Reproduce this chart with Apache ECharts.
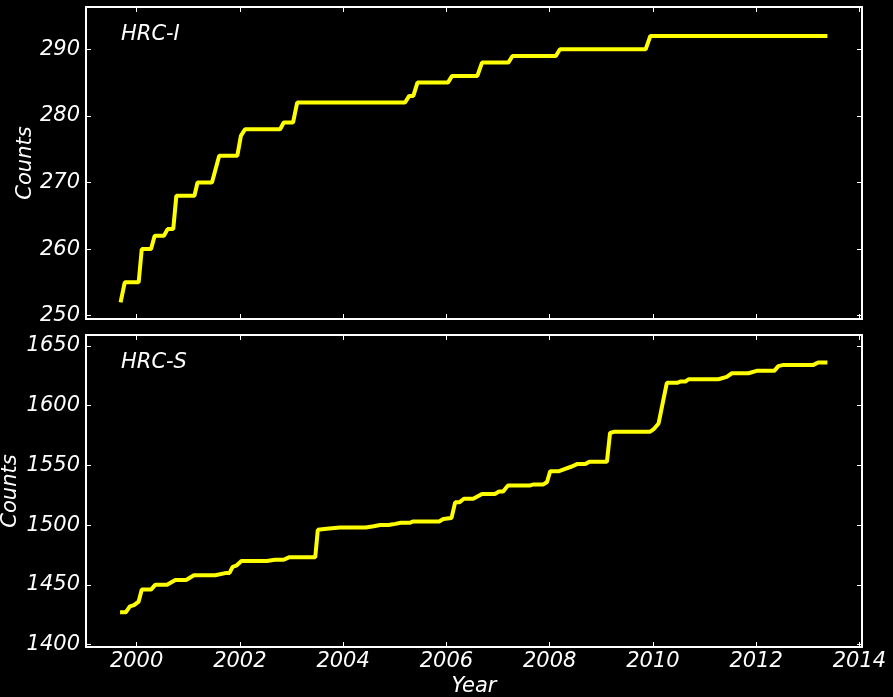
<!DOCTYPE html>
<html>
<head>
<meta charset="utf-8">
<script src="https://cdn.jsdelivr.net/npm/echarts@6/dist/echarts.min.js"></script>
<style>
html,body{margin:0;padding:0;background:#000;}
#c{width:893px;height:697px;}
</style>
</head>
<body>
<div id="c"></div>
<script>
// HRC-I
const yearsI = [1999.69,1999.77,2000.04,2000.10,2000.28,2000.35,2000.53,2000.60,2000.71,2000.77,2001.12,2001.18,2001.46,2001.60,2001.95,2002.02,2002.10,2002.78,2002.85,2003.03,2003.11,2005.20,2005.28,2005.36,2005.44,2006.03,2006.11,2006.60,2006.69,2007.20,2007.28,2008.12,2008.20,2009.86,2009.95,2013.38];
const countsI = [252,255,255,260,260,262,262,263,263,268,268,270,270,274,274,277,278,278,279,279,282,282,283,283,285,285,286,286,288,288,289,289,290,290,292,292];
// HRC-S
const yearsS = [1999.68,1999.79,1999.87,1999.95,2000.04,2000.10,2000.28,2000.36,2000.59,2000.75,2000.96,2001.11,2001.52,2001.74,2001.80,2001.86,2001.93,2002.03,2002.52,2002.68,2002.85,2002.95,2003.46,2003.51,2003.68,2003.94,2004.44,2004.59,2004.72,2004.88,2005.01,2005.12,2005.30,2005.36,2005.86,2005.94,2006.10,2006.17,2006.25,2006.34,2006.52,2006.69,2006.94,2007.02,2007.10,2007.19,2007.61,2007.69,2007.88,2007.95,2008.01,2008.17,2008.30,2008.43,2008.53,2008.69,2008.77,2009.11,2009.17,2009.24,2009.94,2010.01,2010.11,2010.27,2010.47,2010.53,2010.63,2010.69,2011.27,2011.43,2011.53,2011.85,2012.01,2012.35,2012.43,2012.53,2013.11,2013.20,2013.38];
const countsS = [1427,1427,1432,1433,1436,1446,1446,1450,1450,1454,1454,1458,1458,1460,1460,1465,1466,1470,1470,1471,1471,1473,1473,1496,1497,1498,1498,1499,1500,1500,1501,1502,1502,1503,1503,1505,1506,1519,1519,1522,1522,1526,1526,1528,1528,1533,1533,1534,1534,1536,1545,1545,1547,1549,1551,1551,1553,1553,1577,1578,1578,1580,1585,1619,1619,1620,1620,1622,1622,1624,1627,1627,1629,1629,1633,1634,1634,1636,1636];

const xTicks = [2000,2002,2004,2006,2008,2010,2012,2014];
const yTicksI = [250,260,270,280,290];
const yTicksS = [1400,1450,1500,1550,1600,1650];

const FONT = 'DejaVu Sans';
const txt = {color:'#fff', fontSize:21, fontStyle:'italic', fontFamily:FONT};
const tick = (vals) => ({show:true, inside:true, length:5, customValues:vals, lineStyle:{color:'#fff', width:1}});

function xAx(grid, pos, labels, name){
  return {type:'value', gridIndex:grid, position:pos, min:1999.02, max:2014.05,
    axisLine:{show:false}, splitLine:{show:false},
    axisTick:tick(xTicks),
    axisLabel: labels ? Object.assign({show:true, margin:4, customValues:xTicks, formatter:v=>String(v)}, txt) : {show:false},
    name: name||'', nameLocation:'middle', nameGap:29, nameMoveOverlap:false, nameTextStyle:txt};
}
function yAx(grid, pos, min, max, ticks, labels, gap){
  return {type:'value', gridIndex:grid, position:pos, min:min, max:max,
    axisLine:{show:false}, splitLine:{show:false},
    axisTick:tick(ticks),
    axisLabel: labels ? Object.assign({show:true, margin:6, customValues:ticks, formatter:v=>String(v)}, txt) : {show:false},
    name: labels ? 'Counts' : '', nameLocation:'middle', nameGap:gap||0, nameRotate:90, nameMoveOverlap:false, nameTextStyle:txt};
}

const chart = echarts.init(document.getElementById('c'), null, {renderer:'canvas'});
chart.setOption({
  backgroundColor:'#000',
  animation:false,
  title:[
    {text:'HRC-I', left:121, top:24, padding:0, textStyle:Object.assign({fontWeight:'normal'}, txt)},
    {text:'HRC-S', left:121, top:352, padding:0, textStyle:Object.assign({fontWeight:'normal'}, txt)}
  ],
  grid:[
    {left:86, top:7, width:776, height:312, show:true, borderColor:'#fff', borderWidth:2, backgroundColor:'#000', containLabel:false, outerBoundsMode:'none'},
    {left:86, top:335, width:776, height:312, show:true, borderColor:'#fff', borderWidth:2, backgroundColor:'#000', containLabel:false, outerBoundsMode:'none'}
  ],
  xAxis:[
    xAx(0,'bottom',false),
    xAx(0,'top',false),
    xAx(1,'bottom',true,'Year'),
    xAx(1,'top',false)
  ],
  yAxis:[
    yAx(0,'left',249.5,296.35,yTicksI,true,50),
    yAx(0,'right',249.5,296.35,yTicksI,false),
    yAx(1,'left',1398,1659,yTicksS,true,65),
    yAx(1,'right',1398,1659,yTicksS,false)
  ],
  series:[
    {type:'line', xAxisIndex:0, yAxisIndex:0, showSymbol:false, symbol:'none',
     lineStyle:{color:'#ffff00', width:4}, data:yearsI.map((x,i)=>[x,countsI[i]])},
    {type:'line', xAxisIndex:2, yAxisIndex:2, showSymbol:false, symbol:'none',
     lineStyle:{color:'#ffff00', width:4}, data:yearsS.map((x,i)=>[x,countsS[i]])}
  ]
});
</script>
</body>
</html>
